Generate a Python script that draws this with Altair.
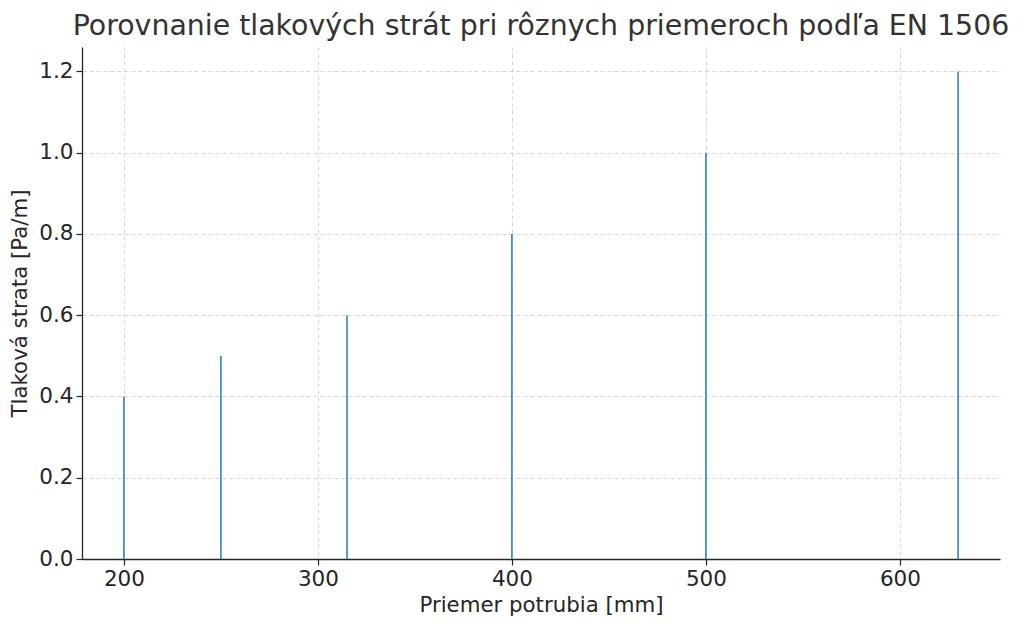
import altair as alt
import pandas as pd

diameters = [200, 250, 315, 400, 500, 630]
losses = [0.4, 0.5, 0.6, 0.8, 1.0, 1.2]

df = pd.DataFrame({"d": diameters, "loss": losses})

FONT = "DejaVu Sans"
TXT = "#262626"

chart = (
    alt.Chart(df)
    .transform_calculate(x0="datum.d - 0.4", x1="datum.d + 0.4")
    .mark_bar(color="#2f7fba")
    .encode(
        x=alt.X(
            "x0:Q",
            scale=alt.Scale(domain=[178.4, 651.6], nice=False, zero=False),
            axis=alt.Axis(values=[200, 300, 400, 500, 600], title="Priemer potrubia [mm]"),
        ),
        x2="x1:Q",
        y=alt.Y(
            "loss:Q",
            scale=alt.Scale(domain=[0, 1.26], nice=False),
            axis=alt.Axis(values=[0, 0.2, 0.4, 0.6, 0.8, 1.0, 1.2], format=".1f", title="Tlaková strata [Pa/m]"),
        ),
        y2=alt.datum(0),
    )
    .properties(
        width=918,
        height=512,
        autosize=alt.AutoSizeParams(type="none"),
        padding={"left": 74, "top": 39, "right": 16, "bottom": 60},
        title=alt.Title(
            "Porovnanie tlakových strát pri rôznych priemeroch podľa EN 1506",
            fontSize=28.4,
            fontWeight="normal",
            font=FONT,
            color="#333333",
            anchor="middle",
            baseline="alphabetic",
            offset=12,
            dy=28,
        ),
    )
    .configure_view(stroke=None)
    .configure_axis(
        labelFont=FONT,
        titleFont=FONT,
        labelFontSize=21.5,
        titleFontSize=21.3,
        titleFontWeight="normal",
        labelColor=TXT,
        titleColor=TXT,
        domainColor=TXT,
        domainWidth=1.3,
        tickColor=TXT,
        tickSize=6,
        tickWidth=1.2,
        grid=True,
        gridColor="#cccccc",
        gridDash=[4, 3],
        gridWidth=0.8,
        labelPadding=3,
    )
    .configure_axisX(titlePadding=5)
    .configure_axisY(titlePadding=8)
)

chart.save("out.html", embed_options={"renderer": "svg", "actions": False})
